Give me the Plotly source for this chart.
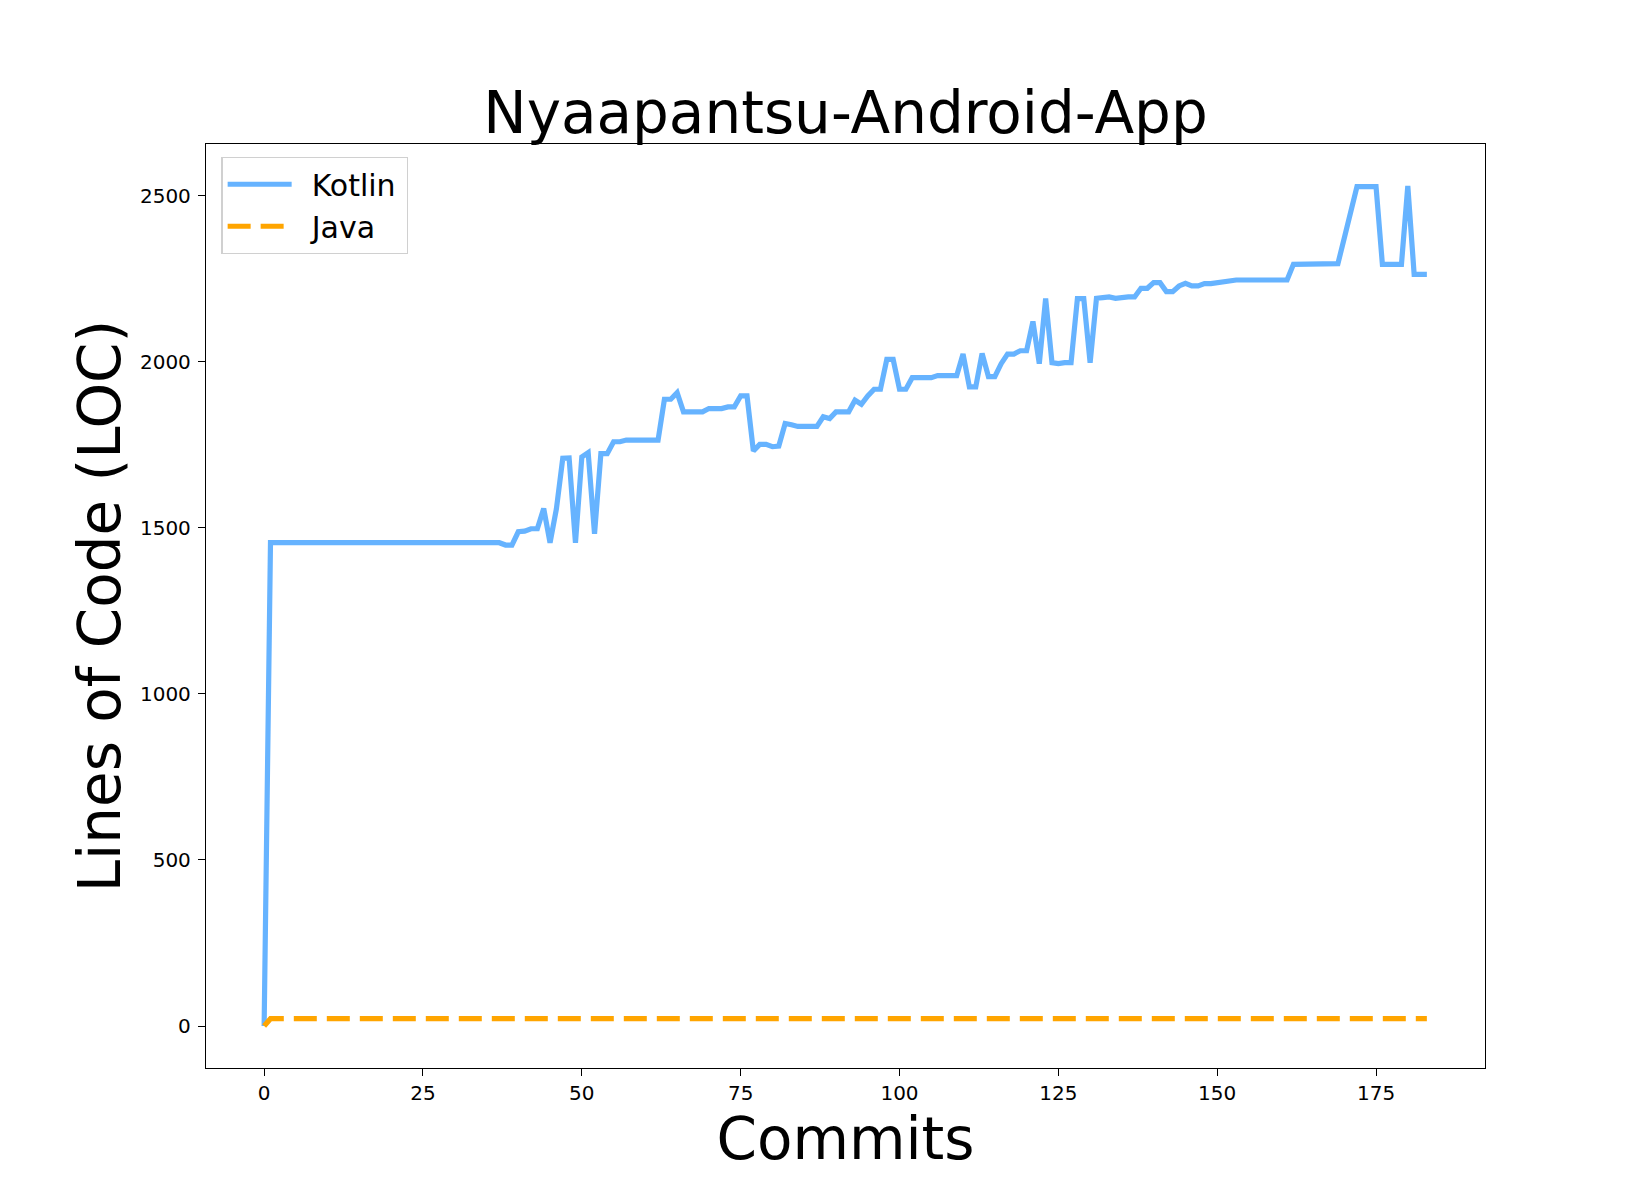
import plotly.graph_objects as go

commits = list(range(184))

kotlin_loc = (
    [0] + [1455] * 37                                                 # 0..37
    + [1448, 1448, 1488, 1490, 1497, 1497, 1558, 1455, 1557, 1709]   # 38..47
    + [1710, 1455, 1713, 1726, 1482, 1723, 1723, 1759, 1759, 1764]   # 48..57
    + [1764, 1764, 1764, 1764, 1764]                                  # 58..62
    + [1887, 1887, 1907, 1849, 1849, 1849, 1849, 1859, 1859, 1859]   # 63..72
    + [1864, 1864, 1897, 1897, 1731, 1751, 1751, 1744, 1746, 1814]   # 73..82
    + [1810, 1805, 1805, 1805, 1805, 1834, 1829, 1849, 1849, 1849]   # 83..92
    + [1884, 1872, 1897, 1917, 1917, 2007, 2007, 1917, 1917, 1952]   # 93..102
    + [1952, 1952, 1952, 1958, 1958, 1958, 1958, 2023, 1924, 1924]   # 103..112
    + [2025, 1955, 1955, 1994, 2023, 2023, 2033, 2033, 2121, 1994]   # 113..122
    + [2190, 1997, 1994, 1997, 1997, 2190, 2190, 1997, 2191, 2193]   # 123..132
    + [2195, 2191, 2195, 2195, 2195, 2221, 2221, 2238, 2238, 2211]   # 133..142
    + [2211, 2228, 2236, 2228, 2228, 2235, 2235, 2238, 2241, 2241]   # 143..152
    + [2246, 2246, 2246, 2246, 2246, 2246, 2246, 2246, 2246, 2293]   # 153..162
    + [2293, 2294, 2294, 2294, 2295, 2295, 2295, 2372, 2449, 2527]   # 163..172
    + [2527, 2527, 2527, 2293, 2293, 2293, 2293, 2529, 2263, 2263]   # 173..182
    + [2263]                                                          # 183
)

java_loc = [0] + [22] * 183

x_ticks = [0, 25, 50, 75, 100, 125, 150, 175]
y_ticks = [0, 500, 1000, 1500, 2000, 2500]

FONT = "DejaVu Sans"

fig = go.Figure()
fig.add_trace(go.Scatter(
    x=commits[:len(kotlin_loc)], y=kotlin_loc, mode="lines",
    name="\u2002Kotlin\u2009",
    line=dict(color="#66b3ff", width=5.2),
))
fig.add_trace(go.Scatter(
    x=commits[:len(java_loc)], y=java_loc, mode="lines",
    name="\u2002Java",
    line=dict(color="#ffa500", width=5.2, dash="23px,10px"),
))

axis_common = dict(
    showgrid=False, zeroline=False, showline=True, linecolor="black",
    linewidth=1.3, mirror=True, ticks="outside", ticklen=7, tickwidth=1.3,
    tickcolor="black",
    tickfont=dict(family=FONT, size=20, color="black"),
)

fig.update_layout(
    width=1650, height=1200,
    paper_bgcolor="white", plot_bgcolor="white",
    margin=dict(l=198, r=173, t=136, b=140, autoexpand=False),
    font=dict(family=FONT, color="black"),
    title=dict(text="Nyaapantsu-Android-App", x=0.5, xanchor="center",
               xref="paper", y=1 - 105 / 1200, yanchor="middle",
               font=dict(family=FONT, size=58, color="black")),
    xaxis=dict(range=[-9.15, 192.15], tickvals=x_ticks, ticklabelstandoff=0,
               title=dict(text="Commits", font=dict(family=FONT, size=58),
                          standoff=0),
               **axis_common),
    yaxis=dict(range=[-126.45, 2655.4], tickvals=y_ticks, ticklabelstandoff=3,
               title=dict(text="Lines of Code (LOC)",
                          font=dict(family=FONT, size=58), standoff=0),
               **axis_common),
    legend=dict(x=0.012, y=0.986, xanchor="left", yanchor="top",
                bgcolor="rgba(255,255,255,0.8)", bordercolor="#d0d0d0",
                borderwidth=1.3, font=dict(family=FONT, size=30),
                itemwidth=64, tracegroupgap=4),
    showlegend=True,
)

fig.write_html("out.html")
